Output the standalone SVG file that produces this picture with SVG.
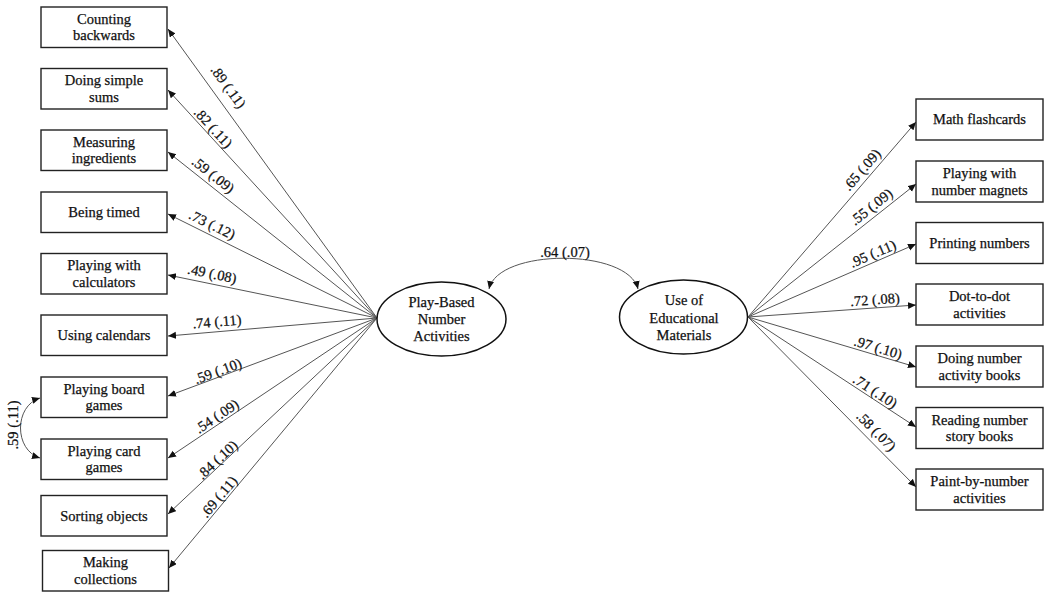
<svg xmlns="http://www.w3.org/2000/svg" width="1050" height="597" viewBox="0 0 1050 597">
<defs>
<marker id="ah" markerUnits="userSpaceOnUse" markerWidth="10" markerHeight="8" refX="8" refY="3.5" orient="auto-start-reverse"><path d="M0,0 L8,3.5 L0,7 z" fill="#111"/></marker>
<style>
.box{fill:#fff;stroke:#222;stroke-width:1.4}
.ell{fill:#fff;stroke:#111;stroke-width:1.5}
.t{font-family:"Liberation Serif","Times New Roman",serif;font-size:14.5px;fill:#111;stroke:#111;stroke-width:0.25;text-anchor:middle}
.c{fill:none;stroke:#555;stroke-width:1;marker-end:url(#ah)}
.cc{fill:none;stroke:#555;stroke-width:1;marker-end:url(#ah);marker-start:url(#ah)}
</style>
</defs>
<rect width="1050" height="597" fill="#fff"/>
<g id="connectors">
<line class="c" x1="377" y1="318" x2="168" y2="29"/>
<line class="c" x1="377" y1="318" x2="168" y2="90"/>
<line class="c" x1="377" y1="318" x2="168" y2="152"/>
<line class="c" x1="377" y1="318" x2="168" y2="214"/>
<line class="c" x1="377" y1="318" x2="168" y2="275"/>
<line class="c" x1="377" y1="318" x2="168" y2="336"/>
<line class="c" x1="377" y1="318" x2="168" y2="396"/>
<line class="c" x1="377" y1="318" x2="168" y2="458"/>
<line class="c" x1="377" y1="318" x2="168" y2="514"/>
<line class="c" x1="377" y1="318" x2="169" y2="568"/>
<line class="c" x1="748" y1="317" x2="916" y2="122"/>
<line class="c" x1="748" y1="317" x2="916" y2="184"/>
<line class="c" x1="748" y1="317" x2="916" y2="244"/>
<line class="c" x1="748" y1="317" x2="916" y2="305"/>
<line class="c" x1="748" y1="317" x2="916" y2="367"/>
<line class="c" x1="748" y1="317" x2="916" y2="427"/>
<line class="c" x1="748" y1="317" x2="916" y2="487"/>
<path class="cc" d="M489,289 C498,248 628,248 638,289"/>
<path class="cc" d="M40,398 C14,406 14,450 40,458"/>
<g class="t">
<text transform="translate(228,87) rotate(54)" y="4.5">.89 (.11)</text>
<text transform="translate(213,128) rotate(47.4)" y="4.5">.82 (.11)</text>
<text transform="translate(213,175) rotate(38.3)" y="4.5">.59 (.09)</text>
<text transform="translate(212,225) rotate(26.3)" y="4.5">.73 (.12)</text>
<text transform="translate(212,274) rotate(11.6)" y="4.5">.49 (.08)</text>
<text transform="translate(217,322) rotate(-4.9)" y="4.5">.74 (.11)</text>
<text transform="translate(218,371.5) rotate(-20.4)" y="4.5">.59 (.10)</text>
<text transform="translate(217,416.5) rotate(-33.7)" y="4.5">.54 (.09)</text>
<text transform="translate(217.5,460) rotate(-43)" y="4.5">.84 (.10)</text>
<text transform="translate(219,497) rotate(-50)" y="4.5">.69 (.11)</text>
<text transform="translate(862,170) rotate(-49.3)" y="4.5">.65 (.09)</text>
<text transform="translate(871.5,207) rotate(-38.4)" y="4.5">.55 (.09)</text>
<text transform="translate(873,254) rotate(-23.5)" y="4.5">.95 (.11)</text>
<text transform="translate(875,300) rotate(-4.1)" y="4.5">.72 (.08)</text>
<text transform="translate(878,348) rotate(16.6)" y="4.5">.97 (.10)</text>
<text transform="translate(875,391.5) rotate(33.2)" y="4.5">.71 (.10)</text>
<text transform="translate(876,431.5) rotate(45.3)" y="4.5">.58 (.07)</text>
<text x="565" y="256.5">.64 (.07)</text>
<text transform="translate(13,425) rotate(-90)" y="4.5">.59 (.11)</text>
</g>
</g>
<g id="n1"><rect class="box" x="41" y="7" width="126" height="40.5"/><text class="t" x="104" y="23.8">Counting</text><text class="t" x="104" y="40.3">backwards</text></g>
<g id="n2"><rect class="box" x="41" y="68.5" width="126" height="40.5"/><text class="t" x="104" y="85.3">Doing simple</text><text class="t" x="104" y="101.8">sums</text></g>
<g id="n3"><rect class="box" x="41" y="130" width="126" height="40.5"/><text class="t" x="104" y="146.8">Measuring</text><text class="t" x="104" y="163.3">ingredients</text></g>
<g id="n4"><rect class="box" x="41" y="192" width="126" height="40.5"/><text class="t" x="104" y="217">Being timed</text></g>
<g id="n5"><rect class="box" x="41" y="253.5" width="126" height="40.5"/><text class="t" x="104" y="270.3">Playing with</text><text class="t" x="104" y="286.8">calculators</text></g>
<g id="n6"><rect class="box" x="41" y="315" width="126" height="40.5"/><text class="t" x="104" y="340.2">Using calendars</text></g>
<g id="n7"><rect class="box" x="41" y="377" width="126" height="40.5"/><text class="t" x="104" y="393.8">Playing board</text><text class="t" x="104" y="410.3">games</text></g>
<g id="n8"><rect class="box" x="41" y="439" width="126" height="40.5"/><text class="t" x="104" y="455.8">Playing card</text><text class="t" x="104" y="472.3">games</text></g>
<g id="n9"><rect class="box" x="41" y="495.5" width="126" height="40.5"/><text class="t" x="104" y="520.5">Sorting objects</text></g>
<g id="n10"><rect class="box" x="42.5" y="550.5" width="126" height="40.5"/><text class="t" x="105.5" y="567.3">Making</text><text class="t" x="105.5" y="583.8">collections</text></g>
<g id="f1"><ellipse class="ell" cx="441.5" cy="319" rx="64.5" ry="37"/><text class="t" x="441.5" y="306.5">Play-Based</text><text class="t" x="441.5" y="323.5">Number</text><text class="t" x="441.5" y="340.5">Activities</text></g>
<g id="f2"><ellipse class="ell" cx="683.5" cy="317" rx="64" ry="37"/><text class="t" x="684" y="305">Use of</text><text class="t" x="684" y="322.5">Educational</text><text class="t" x="684" y="340">Materials</text></g>
<g id="r1"><rect class="box" x="916" y="99" width="127" height="41"/><text class="t" x="979.5" y="124.3">Math flashcards</text></g>
<g id="r2"><rect class="box" x="916" y="161" width="127" height="41"/><text class="t" x="979.5" y="178">Playing with</text><text class="t" x="979.5" y="194.5">number magnets</text></g>
<g id="r3"><rect class="box" x="916" y="222.5" width="127" height="41"/><text class="t" x="979.5" y="247.8">Printing numbers</text></g>
<g id="r4"><rect class="box" x="916" y="284" width="127" height="41"/><text class="t" x="979.5" y="301">Dot-to-dot</text><text class="t" x="979.5" y="317.5">activities</text></g>
<g id="r5"><rect class="box" x="916" y="346" width="127" height="41"/><text class="t" x="979.5" y="363">Doing number</text><text class="t" x="979.5" y="379.5">activity books</text></g>
<g id="r6"><rect class="box" x="916" y="407.5" width="127" height="41"/><text class="t" x="979.5" y="424.5">Reading number</text><text class="t" x="979.5" y="441">story books</text></g>
<g id="r7"><rect class="box" x="916" y="469" width="127" height="41"/><text class="t" x="979.5" y="486">Paint-by-number</text><text class="t" x="979.5" y="502.5">activities</text></g>
</svg>
